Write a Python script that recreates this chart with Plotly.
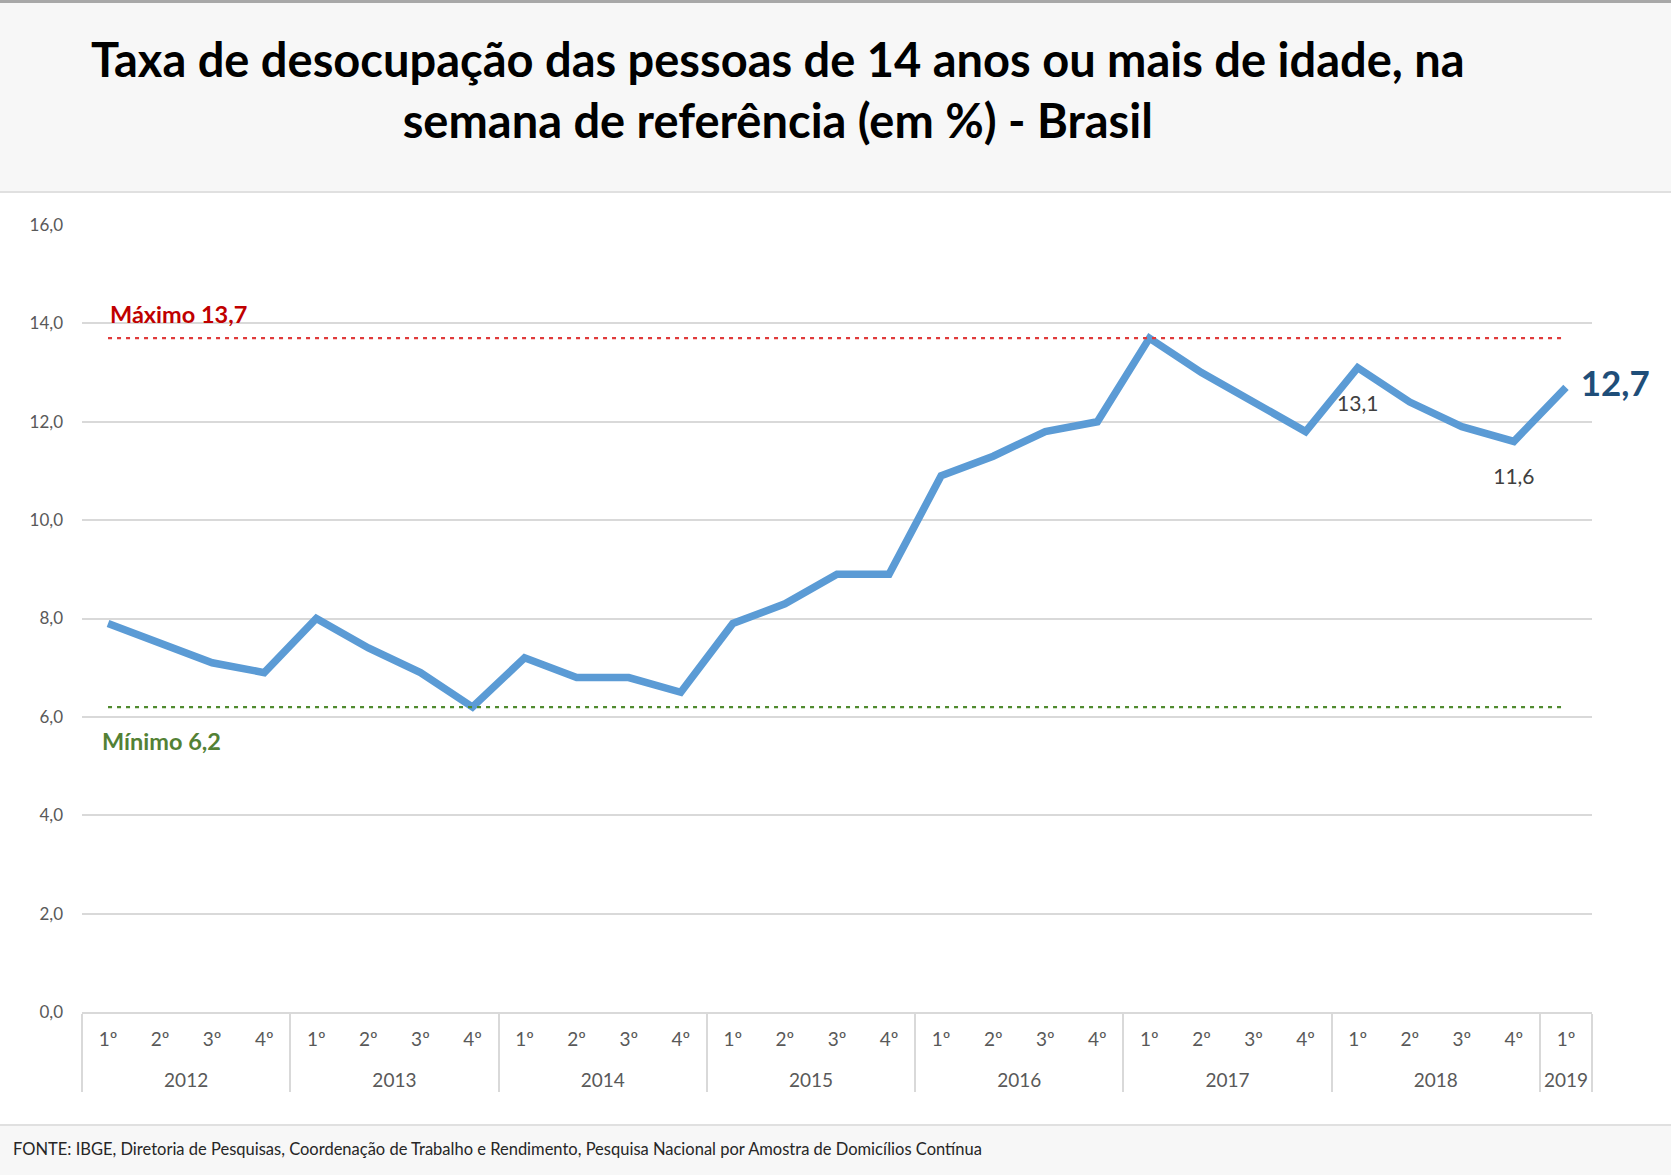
import plotly.graph_objects as go

# ---- data ----
anos = ["2012", "2013", "2014", "2015", "2016", "2017", "2018", "2019"]
trimestres = ["1º", "2º", "3º", "4º"]
taxa = [7.9, 7.5, 7.1, 6.9,
        8.0, 7.4, 6.9, 6.2,
        7.2, 6.8, 6.8, 6.5,
        7.9, 8.3, 8.9, 8.9,
        10.9, 11.3, 11.8, 12.0,
        13.7, 13.0, 12.4, 11.8,
        13.1, 12.4, 11.9, 11.6,
        12.7]
maximo = 13.7
minimo = 6.2
rotulos_idx = [24, 27]      # points with small data labels
ultimo_idx = len(taxa) - 1  # highlighted final value

titulo = ("Taxa de desocupação das pessoas de 14 anos ou mais de idade, na<br>"
          "semana de referência (em %) - Brasil")
fonte = ("FONTE: IBGE, Diretoria de Pesquisas, Coordenação de Trabalho e Rendimento, "
         "Pesquisa Nacional por Amostra de Domicílios Contínua")

# category labels; the invisible second line only adds room between the two label rows
x_ano = [anos[i // 4] for i in range(len(taxa))]
x_tri = [trimestres[i % 4] + "<br>\u00a0" for i in range(len(taxa))]


def fmt(v):
    return f"{v:.1f}".replace(".", ",")


W, H = 1671, 1175
L, R, T, B = 82, 79, 225, 163
PW, PH = W - L - R, H - T - B


def px(x):
    return (x - L) / PW


def py(y):
    return (H - B - y) / PH


FONT = "Lato"
fig = go.Figure()

# main series (first, so category order follows the data)
fig.add_trace(go.Scatter(
    x=[x_ano, x_tri], y=taxa, mode="lines",
    line=dict(color="#5b9bd5", width=7.5), showlegend=False))

# reference lines
fig.add_trace(go.Scatter(
    x=[[x_ano[0], x_ano[-1]], [x_tri[0], x_tri[-1]]], y=[maximo, maximo],
    mode="lines", line=dict(color="#e03a3a", width=2.2, dash="4px,5px"),
    hoverinfo="skip", showlegend=False))
fig.add_trace(go.Scatter(
    x=[[x_ano[0], x_ano[-1]], [x_tri[0], x_tri[-1]]], y=[minimo, minimo],
    mode="lines", line=dict(color="#4f8a2e", width=2.2, dash="4px,5px"),
    hoverinfo="skip", showlegend=False))

# small data labels (invisible markers give the text its offset)
fig.add_trace(go.Scatter(
    x=[[x_ano[i] for i in rotulos_idx], [x_tri[i] for i in rotulos_idx]],
    y=[taxa[i] for i in rotulos_idx],
    text=[fmt(taxa[i]) for i in rotulos_idx],
    mode="markers+text", textposition="bottom center",
    marker=dict(size=42, color="rgba(0,0,0,0)"),
    textfont=dict(family=FONT, size=21, color="#404040"),
    showlegend=False, hoverinfo="skip"))

# final highlighted label
fig.add_trace(go.Scatter(
    x=[[x_ano[ultimo_idx]], [x_tri[ultimo_idx]]], y=[taxa[ultimo_idx]],
    text=["<b>" + fmt(taxa[ultimo_idx]) + "</b>"],
    mode="markers+text", textposition="middle right",
    marker=dict(size=22, color="rgba(0,0,0,0)"),
    textfont=dict(family=FONT, size=35, color="#1f4e79"),
    cliponaxis=False,
    showlegend=False, hoverinfo="skip"))

shapes = [
    # title band
    dict(type="rect", xref="paper", yref="paper", x0=px(0), x1=px(W), y0=py(0), y1=py(192),
         fillcolor="#f7f7f7", line=dict(width=0), layer="below"),
    dict(type="line", xref="paper", yref="paper", x0=px(0), x1=px(W), y0=py(192), y1=py(192),
         line=dict(color="#e0e0e0", width=2), layer="below"),
    dict(type="rect", xref="paper", yref="paper", x0=px(0), x1=px(W), y0=py(0), y1=py(3),
         fillcolor="#a8a8a8", line=dict(width=0), layer="below"),
    # footer band
    dict(type="rect", xref="paper", yref="paper", x0=px(0), x1=px(W), y0=py(1125), y1=py(H),
         fillcolor="#f7f7f7", line=dict(width=0), layer="below"),
    dict(type="line", xref="paper", yref="paper", x0=px(0), x1=px(W), y0=py(1125), y1=py(1125),
         line=dict(color="#e0e0e0", width=2), layer="below"),
]

annotations = [
    dict(text="<b>" + titulo + "</b>", xref="paper", yref="paper", x=px(778), y=py(89),
         xanchor="center", yanchor="middle", showarrow=False, align="center",
         font=dict(family=FONT, size=47, color="#000000")),
    dict(text="<b>Máximo " + fmt(maximo) + "</b>", xref="paper", yref="y", x=px(108), y=maximo,
         xanchor="left", yanchor="bottom", yshift=8, showarrow=False,
         font=dict(family=FONT, size=23.5, color="#c00000")),
    dict(text="<b>Mínimo " + fmt(minimo) + "</b>", xref="paper", yref="y", x=px(100), y=minimo,
         xanchor="left", yanchor="top", yshift=-18, showarrow=False,
         font=dict(family=FONT, size=23.5, color="#538135")),
    dict(text=fonte, xref="paper", yref="paper", x=px(11), y=py(1149),
         xanchor="left", yanchor="middle", showarrow=False,
         font=dict(family=FONT, size=16.5, color="#262626")),
]

fig.update_layout(
    width=W, height=H,
    margin=dict(l=L, r=R, t=T, b=B, autoexpand=False),
    paper_bgcolor="#ffffff", plot_bgcolor="#ffffff",
    separators=",.",
    font=dict(family=FONT, color="#595959"),
    shapes=shapes, annotations=annotations,
    showlegend=False,
)
fig.update_xaxes(
    type="multicategory", showgrid=False, ticks="",
    showline=True, linecolor="#d9d9d9", linewidth=2,
    showdividers=True, dividercolor="#d9d9d9", dividerwidth=2,
    tickfont=dict(family=FONT, size=19, color="#595959"),
    ticklabelstandoff=9,
    range=[-0.5, len(taxa) - 0.5], zeroline=False,
)
fig.update_yaxes(
    range=[0, 16], dtick=2, tickformat=".1f",
    showgrid=True, gridcolor="#d9d9d9", gridwidth=1.5,
    zeroline=False, showline=False, ticks="",
    ticklabelstandoff=18,
    tickfont=dict(family=FONT, size=17, color="#595959"),
)

fig.write_html("out.html", config={"displayModeBar": False},
               post_script="document.body.style.margin='0';")
